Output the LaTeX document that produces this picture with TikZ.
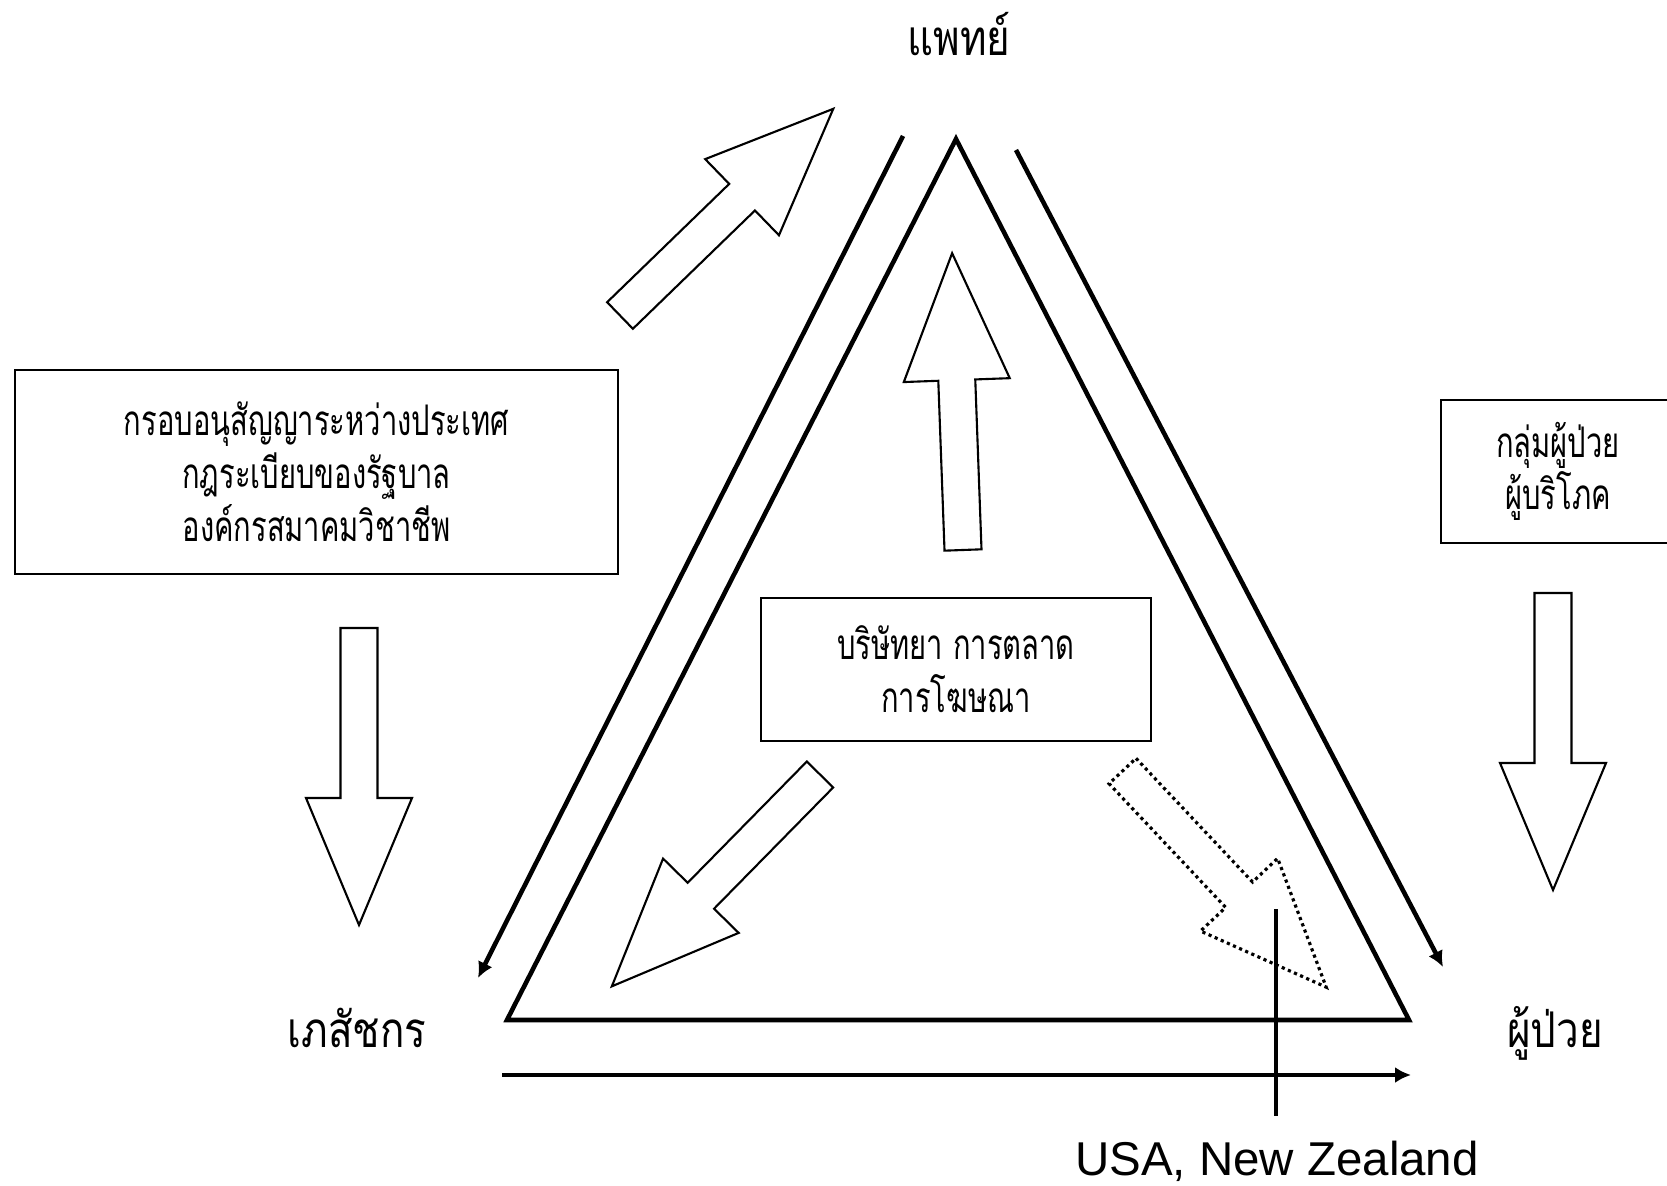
\documentclass[tikz,border=0pt]{standalone}
\usepackage{fontspec}
\setmainfont{Liberation Sans}
\newfontfamily\thaifont[Script=Thai, FakeStretch=0.69]{Loma}
\newfontfamily\thaiwide[Script=Thai, FakeStretch=0.82]{Loma}
\usetikzlibrary{arrows.meta}
\tikzset{
  blockarrow/.pic={
    \draw[pic actions] (0,-18.5) -- (170,-18.5) -- (170,-53) -- (297,0)
      -- (170,53) -- (170,18.5) -- (0,18.5) -- cycle;
  },
  thailabel/.style={anchor=base, font=\thaiwide\fontsize{14}{17}\selectfont},
  thaibox/.style={draw, line width=0.6pt, align=center, inner sep=0pt,
    font=\thaifont\fontsize{12}{15}\selectfont},
  heavy/.style={line width=1.3pt},
}
\begin{document}
\begin{tikzpicture}[x=0.01cm, y=-0.01cm, >={Latex[length=4.5pt,width=4.5pt]}, line width=0.6pt]
  \useasboundingbox (0,0) rectangle (1667,1186);
  % corners of the triangle
  \coordinate (apex) at (956,139);
  \coordinate (bl) at (507,1020);
  \coordinate (br) at (1409,1020);
  \draw[heavy] (apex) -- (bl) -- (br) -- cycle;

  % labels
  \node[thailabel] (doctor) at (959,56) {แพทย์};
  \node[thailabel] (pharm) at (357,1047) {เภสัชกร};
  \node[thailabel] (patient) at (1555,1047) {ผู้ป่วย};
  \node[anchor=base, font=\fontsize{13.5}{16}\selectfont] (usa) at (1277,1175) {USA, New Zealand};

  % boxes
  \node[thaibox, minimum width=6.03cm, minimum height=2.04cm] (rules) at (316.5,472)
    {กรอบอนุสัญญาระหว่างประเทศ\\กฎระเบียบของรัฐบาล\\องค์กรสมาคมวิชาชีพ};
  \node[thaibox, minimum width=2.34cm, minimum height=1.43cm] (groups) at (1558,471.5)
    {กลุ่มผู้ป่วย\\ผู้บริโภค};
  \node[thaibox, minimum width=3.90cm, minimum height=1.43cm] (pharma) at (956,669.5)
    {บริษัทยา การตลาด\\การโฆษณา};

  % long arrows
  \coordinate (lt) at (903,136);
  \coordinate (lb) at (478,978);
  \coordinate (rt) at (1016,150);
  \coordinate (rb) at (1443,967);
  \coordinate (bs) at (502,1075);
  \coordinate (be) at (1411,1075);
  \draw[->, heavy] (lt) -- (lb);
  \draw[->, heavy] (rt) -- (rb);
  \draw[->, heavy] (bs) -- (be);
  \coordinate (vt) at (1276,909);
  \coordinate (vb) at (1276,1116);
  \draw[heavy] (vt) -- (vb);

  % block arrows
  \pic[rotate=44.1] at (620,315.5) {blockarrow};
  \pic[rotate=92.1] at (963,550) {blockarrow};
  \pic[rotate=-90] at (359,628) {blockarrow};
  \pic[rotate=-90] at (1553,593) {blockarrow};
  \pic[rotate=-134.5] at (820,774.5) {blockarrow};
  \pic[rotate=-46.7, densely dotted, line width=0.9pt] at (1122.5,771) {blockarrow};
\end{tikzpicture}
\end{document}
